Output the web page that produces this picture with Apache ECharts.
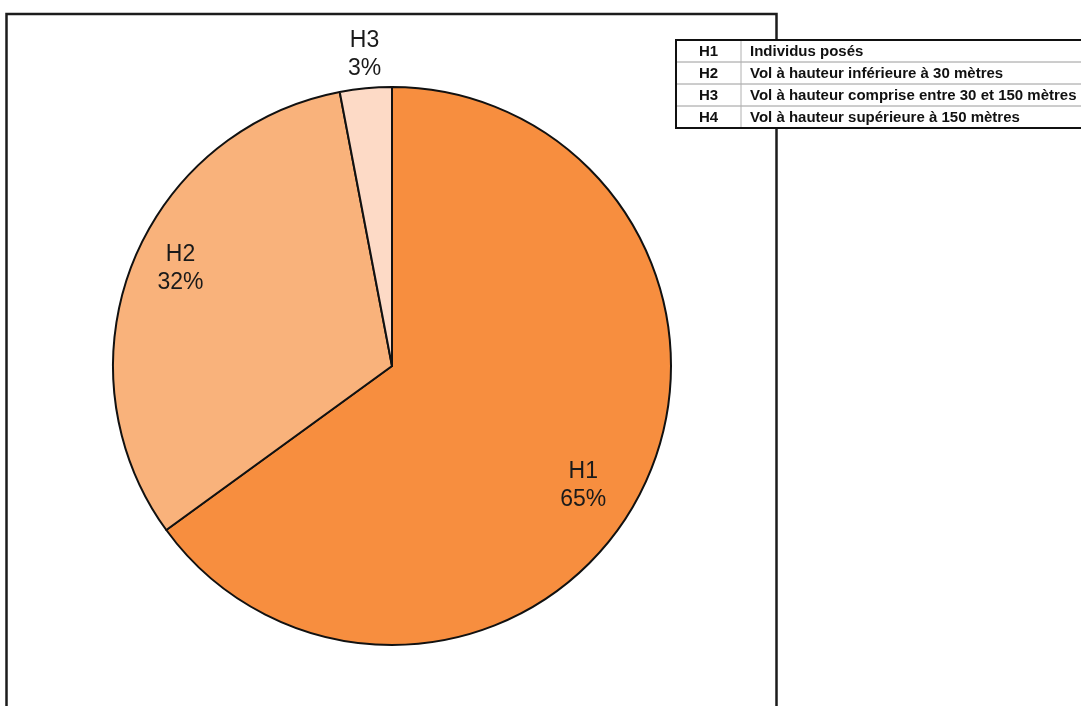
<!DOCTYPE html>
<html>
<head>
<meta charset="utf-8">
<script src="https://cdn.jsdelivr.net/npm/echarts@6/dist/echarts.min.js"></script>
<style>
  html, body { margin: 0; padding: 0; background: #ffffff; }
  #chart { width: 1081px; height: 706px; }
</style>
</head>
<body>
<div id="chart"></div>
<script>
// Flight-height classes and their share of observed birds (%)
const categories = ['H1', 'H2', 'H3'];
const shares = [65, 32, 3];
const sliceColors = ['#F78E3F', '#F9B27B', '#FDDAC6'];

// Key table shown at the top right
const legendCodes = ['H1', 'H2', 'H3', 'H4'];
const legendDescriptions = [
  'Individus posés',
  'Vol à hauteur inférieure à 30 mètres',
  'Vol à hauteur comprise entre 30 et 150 mètres',
  'Vol à hauteur supérieure à 150 mètres'
];

const CENTER = [392, 366];
const R = 279;
const labelFont = {
  fontFamily: 'Liberation Sans, Arial, sans-serif',
  fontSize: 23,
  lineHeight: 28,
  color: '#1a1a1a'
};

const chart = echarts.init(document.getElementById('chart'), null, { renderer: 'canvas' });

// Slices themselves
const pieData = categories.map((name, i) => ({
  name,
  value: shares[i],
  itemStyle: { color: sliceColors[i] }
}));

// Invisible rings that only carry the labels at the wanted radii
function labelRing(showFor) {
  return categories.map((name, i) => ({
    name,
    value: shares[i],
    label: { show: showFor.indexOf(name) >= 0 }
  }));
}

const ringBase = {
  type: 'pie',
  silent: true,
  clockwise: true,
  animation: false,
  itemStyle: { color: 'rgba(0,0,0,0)', borderWidth: 0 },
  labelLine: { show: false },
  emphasis: { disabled: true },
  label: Object.assign({ position: 'inside', formatter: '{b}\n{c}%' }, labelFont),
  z: 3
};

// Key table graphics (each element carries its own z so it sits above the frame)
const T = { left: 676, top: 40, right: 1096, sep: 741, rowH: 22 };
const TZ = 20;
const tableFont = 'bold 15px "Liberation Sans", Arial, sans-serif';
const tableElements = [];
tableElements.push({
  type: 'rect', z: TZ,
  shape: { x: T.left, y: T.top, width: T.right - T.left, height: T.rowH * legendCodes.length },
  style: { fill: '#ffffff', stroke: 'none' }
});
for (let i = 1; i < legendCodes.length; i++) {
  tableElements.push({
    type: 'line', z: TZ + 1,
    shape: { x1: T.left, y1: T.top + i * T.rowH, x2: T.right, y2: T.top + i * T.rowH },
    style: { stroke: '#9a9a9a', lineWidth: 1 }
  });
}
tableElements.push({
  type: 'line', z: TZ + 1,
  shape: { x1: T.sep, y1: T.top, x2: T.sep, y2: T.top + T.rowH * legendCodes.length },
  style: { stroke: '#b0b0b0', lineWidth: 1 }
});
legendCodes.forEach((code, i) => {
  const cy = T.top + i * T.rowH + T.rowH / 2 + 0.5;
  tableElements.push({
    type: 'text', z: TZ + 2,
    style: {
      text: code, x: (T.left + T.sep) / 2, y: cy,
      align: 'center', verticalAlign: 'middle',
      font: tableFont, fill: '#111'
    }
  });
  tableElements.push({
    type: 'text', z: TZ + 2,
    style: {
      text: legendDescriptions[i], x: T.sep + 9, y: cy,
      align: 'left', verticalAlign: 'middle',
      font: tableFont, fill: '#111'
    }
  });
});
tableElements.push({
  type: 'rect', z: TZ + 3,
  shape: { x: T.left, y: T.top, width: T.right - T.left, height: T.rowH * legendCodes.length },
  style: { fill: 'none', stroke: '#111', lineWidth: 2 }
});

chart.setOption({
  backgroundColor: '#ffffff',
  animation: false,
  graphic: [
    {
      type: 'rect',
      z: 1,
      shape: { x: 6.5, y: 14, width: 770, height: 760 },
      style: { fill: 'none', stroke: '#1c1c1c', lineWidth: 2.5 }
    }
  ].concat(tableElements),
  series: [
    {
      type: 'pie',
      center: CENTER,
      radius: [0, R],
      startAngle: 90,
      clockwise: true,
      silent: true,
      animation: false,
      data: pieData,
      itemStyle: { borderColor: '#111', borderWidth: 2 },
      label: { show: false },
      labelLine: { show: false },
      emphasis: { disabled: true },
      z: 2
    },
    Object.assign({}, ringBase, {
      center: [CENTER[0] - 5, CENTER[1] + 2],
      radius: [R * 0.62, R],
      startAngle: 86,
      data: labelRing(['H1', 'H2'])
    }),
    Object.assign({}, ringBase, {
      center: [CENTER[0] + 2, CENTER[1]],
      radius: [R, R * 1.22],
      startAngle: 90,
      data: labelRing(['H3'])
    })
  ]
});
</script>
</body>
</html>
